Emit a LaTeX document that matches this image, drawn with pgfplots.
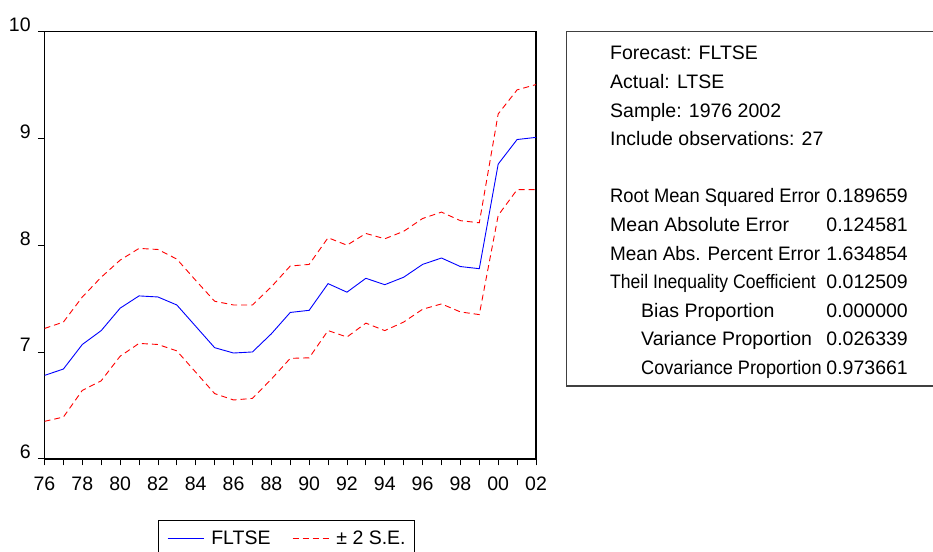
\documentclass[border=0pt]{standalone}
\usepackage{fontspec}
\setmainfont{Liberation Sans}
\usepackage{pgfplots}
\usepackage{pgfplotstable}
\pgfplotsset{compat=1.18}
\definecolor{eblue}{RGB}{0,0,255}
\definecolor{ered}{RGB}{255,0,0}
\newcommand{\tfont}{\fontsize{19.5}{23}\selectfont}
\pgfplotstableread{
year fc up lo
1976 6.78 7.22 6.35
1977 6.84 7.28 6.39
1978 7.07 7.515 6.64
1979 7.20 7.70 6.73
1980 7.41 7.86 6.96
1981 7.525 7.97 7.08
1982 7.515 7.96 7.07
1983 7.44 7.87 7.01
1984 7.24 7.67 6.81
1985 7.04 7.475 6.61
1986 6.99 7.44 6.55
1987 7.00 7.44 6.565
1988 7.17 7.61 6.745
1989 7.37 7.805 6.94
1990 7.39 7.82 6.945
1991 7.64 8.07 7.20
1992 7.56 8.00 7.14
1993 7.69 8.11 7.27
1994 7.63 8.06 7.20
1995 7.70 8.13 7.28
1996 7.82 8.25 7.40
1997 7.88 8.31 7.45
1998 7.80 8.23 7.375
1999 7.78 8.21 7.35
2000 8.76 9.23 8.28
2001 8.99 9.455 8.52
2002 9.01 9.505 8.52
}\data
\begin{document}
\begin{tikzpicture}[x=1pt,y=1pt]
\useasboundingbox (0,0) rectangle (933,551);
\begin{axis}[
  at={(44.5pt,92.3pt)}, anchor=south west,
  scale only axis, width=491.5pt, height=427pt,
  xmin=1976, xmax=2002, ymin=6, ymax=10,
  xtick={1976,1978,...,2002},
  xticklabels={76,78,80,82,84,86,88,90,92,94,96,98,00,02},
  minor xtick={1977,1979,...,2001},
  ytick={6,7,8,9,10},
  tick align=outside, xtick pos=bottom, ytick pos=left,
  major tick length=6.7pt, minor tick length=6.7pt,
  tick style={black, line width=0.8pt},
  axis line style={line width=1.6pt},
  ticklabel style={font=\tfont},
  /pgf/number format/assume math mode=true,
  yticklabel style={anchor=east, inner sep=0pt, yshift=6.7pt, xshift=-7pt},
  xticklabel style={anchor=north, inner sep=0pt, yshift=-11pt},
  legend style={at={(axis description cs:0.2315,-0.1436)}, anchor=north west,
    draw=black, line width=0.8pt, font=\tfont, legend columns=2,
    inner xsep=8.4pt, inner ysep=10pt,
    nodes={inner sep=0pt},
    /tikz/every odd column/.append style={column sep=6.7pt},
    /tikz/every even column/.append style={column sep=21.7pt}},
  legend image code/.code={\draw[#1] (0pt,0pt) -- (36.6pt,0pt);},
]
\addplot[eblue, line width=0.9pt] table[x=year,y=fc]{\data};
\addlegendentry{FLTSE}
\addplot[ered, line width=0.9pt, dash pattern=on 6pt off 4pt] table[x=year,y=up]{\data};
\addlegendentry{± 2 S.E.}
\addplot[ered, line width=0.9pt, dash pattern=on 6pt off 4pt, forget plot] table[x=year,y=lo]{\data};
\end{axis}
\draw[line width=1.2pt, black!75] (566.5,165) rectangle (945,519.3);
\begin{scope}[every node/.style={inner sep=0pt, font=\tfont}]
\node[anchor=base west] at (610,491) {Forecast: FLTSE};
\node[anchor=base west] at (610,462.4) {Actual: LTSE};
\node[anchor=base west] at (610,433.8) {Sample: 1976 2002};
\node[anchor=base west] at (610,405.2) {Include observations: 27};
\node[anchor=base west] at (610,348) {\scalebox{0.94}[1]{Root Mean Squared Error}};
\node[anchor=base east] at (908,348) {0.189659};
\node[anchor=base west] at (610,319.4) {Mean Absolute Error};
\node[anchor=base east] at (908,319.4) {0.124581};
\node[anchor=base west] at (610,290.8) {\scalebox{0.97}[1]{Mean Abs. Percent Error}};
\node[anchor=base east] at (908,290.8) {1.634854};
\node[anchor=base west] at (610,262.2) {\scalebox{0.9}[1]{Theil Inequality Coefficient}};
\node[anchor=base east] at (908,262.2) {0.012509};
\node[anchor=base west] at (641,233.6) {Bias Proportion};
\node[anchor=base east] at (908,233.6) {0.000000};
\node[anchor=base west] at (641,205) {Variance Proportion};
\node[anchor=base east] at (908,205) {0.026339};
\node[anchor=base west] at (641,176.4) {\scalebox{0.93}[1]{Covariance Proportion}};
\node[anchor=base east] at (908,176.4) {0.973661};
\end{scope}
\end{tikzpicture}
\end{document}
